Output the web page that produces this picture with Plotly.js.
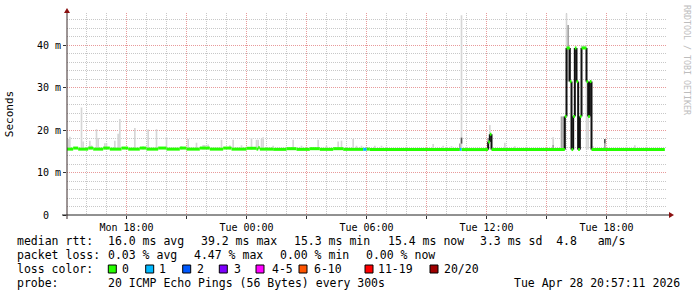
<!DOCTYPE html>
<html><head><meta charset="utf-8">
<script src="https://cdn.plot.ly/plotly-3.0.1.min.js"></script>
<style>html,body{margin:0;padding:0;background:#fff}#chart{width:697px;height:297px}</style>
</head><body><div id="chart"></div>
<script>
// ---------- DATA ----------
const DAYS = {Mon: '2026-04-27', Tue: '2026-04-28'};

// median RTT (ms): start time of each step, value, lost pings
const medTimes = ['Mon 15:00','Mon 15:20','Mon 15:35','Mon 16:05','Mon 16:20','Mon 16:50','Mon 17:10','Mon 17:45','Mon 18:05','Mon 18:40','Mon 19:00','Mon 19:35','Mon 20:00','Mon 20:40','Mon 21:00','Mon 21:40','Mon 22:10','Mon 22:50','Mon 23:15','Tue 00:00','Tue 00:30','Tue 00:35','Tue 00:40','Tue 01:20','Tue 02:00','Tue 02:30','Tue 03:10','Tue 03:40','Tue 04:20','Tue 04:50','Tue 05:50','Tue 06:00','Tue 06:10','Tue 10:40','Tue 10:45','Tue 12:05','Tue 12:10','Tue 12:15','Tue 15:55','Tue 16:00','Tue 16:10','Tue 16:15','Tue 16:20','Tue 16:25','Tue 16:30','Tue 16:35','Tue 16:40','Tue 16:45','Tue 17:00','Tue 17:05','Tue 17:10','Tue 17:15','Tue 20:55'];
const medValues = [15.5,15.75,15.5,15.75,15.5,15.75,15.5,15.75,15.5,15.75,15.5,15.75,15.5,15.75,15.5,15.75,15.5,15.75,15.5,15.7,15.5,15.8,15.5,15.45,15.6,15.45,15.6,15.45,15.6,15.45,15.45,15.5,15.4,15.45,15.4,17.2,19.0,15.4,23.2,39.3,31.4,15.4,23.2,39.3,31.4,15.4,23.2,39.3,31.4,23.2,31.4,15.4,15.4];
const medLoss = [0,0,0,0,0,0,0,0,0,0,0,0,0,0,0,0,0,0,0,0,0,0,0,0,0,0,0,0,0,0,1,0,0,1,0,0,0,0,0,0,0,0,0,0,0,0,0,0,0,0,0,0,0];

// light smoke (ms): step time, low, high
const smokeTimes = ['Mon 15:05','Mon 15:10','Mon 15:45','Mon 15:50','Mon 16:10','Mon 16:15','Mon 16:30','Mon 16:35','Mon 16:55','Mon 17:00','Mon 17:25','Mon 17:35','Mon 17:40','Mon 18:25','Mon 18:50','Mon 19:05','Mon 19:30','Mon 20:00','Mon 20:45','Mon 21:05','Mon 21:30','Mon 21:50','Mon 21:55','Mon 22:05','Mon 22:45','Mon 23:10','Mon 23:20','Mon 23:45','Tue 00:15','Tue 00:30','Tue 00:35','Tue 00:45','Tue 00:50','Tue 01:20','Tue 02:20','Tue 02:45','Tue 03:35','Tue 04:00','Tue 04:35','Tue 04:45','Tue 05:20','Tue 05:30','Tue 05:45','Tue 06:25','Tue 06:45','Tue 09:20','Tue 09:50','Tue 10:15','Tue 10:45','Tue 12:10','Tue 12:55','Tue 13:25','Tue 15:20','Tue 16:00','Tue 16:45','Tue 16:50','Tue 16:55','Tue 17:00','Tue 17:05','Tue 17:20','Tue 19:00','Tue 19:25'];
const smokeLow = [15.4,15.4,15.4,15.4,15.4,15.4,15.4,15.4,15.4,15.4,15.4,15.4,15.4,15.4,15.4,15.4,15.4,15.4,15.4,15.4,15.4,15.4,15.4,15.4,15.4,15.4,15.4,15.4,15.4,15.4,15.4,15.4,15.4,15.4,15.4,15.4,15.4,15.4,15.4,15.4,15.4,15.4,15.4,15.4,15.4,15.4,15.4,15.4,15.4,19.0,15.4,15.4,15.4,39.3,39.3,39.3,39.3,15.4,15.4,15.4,15.4,15.4];
const smokeHigh = [17.9,18.4,25.3,17.3,17.5,16.4,20.2,18.1,16.9,16.9,17.5,19.1,22.6,20.5,16.2,20.1,20.2,18.3,16.2,17.9,17.0,16.5,16.5,16.6,17.7,16.4,17.7,16.4,18.1,17.7,17.7,17.9,18.3,16.3,17.7,16.3,17.7,16.3,17.3,17.5,17.9,16.3,16.3,16.3,16.3,16.7,16.3,16.2,47.0,21.2,17.0,16.2,18.3,47.4,39.9,39.9,39.9,31.4,31.4,16.2,16.0,16.4];

// medium smoke
const midTimes = ['Tue 10:40','Tue 12:05','Tue 15:20','Tue 15:45','Tue 15:50','Tue 16:05','Tue 16:35','Tue 16:40','Tue 17:55'];
const midLow = [15.4,15.4,15.4,15.4,15.4,31.4,15.4,15.4,15.4];
const midHigh = [16.8,18.1,16.5,23.2,23.2,44.7,23.2,23.2,16.8];

// dark smoke
const darkTimes = ['Tue 10:45','Tue 17:55'];
const darkLow = [16.8,16.8];
const darkHigh = [18.2,17.9];

const lossLabels = ['0','1','2','3','4-5','6-10','11-19','20/20'];
const lossColors = ['#26ff00','#00b8ff','#0059ff','#7e00ff','#ff00ff','#ff5500','#ff0000','#a00000'];

const xTickVals = ['Mon 18:00','Mon 21:00','Tue 00:00','Tue 03:00','Tue 06:00','Tue 09:00','Tue 12:00','Tue 15:00','Tue 18:00'];
const xTickText = ['Mon 18:00','','Tue 00:00','','Tue 06:00','','Tue 12:00','','Tue 18:00'];
const yTickVals = [0,10,20,30,40];
const yTickText = ['0  ','10 m','20 m','30 m','40 m'];

const statLine1 = ['median rtt:','16.0 ms avg','39.2 ms max','15.3 ms min','15.4 ms now','3.3 ms sd  4.8   am/s'];
const statLine2 = ['packet loss:','0.03 % avg','4.47 % max','0.00 % min','0.00 % now'];
const statLine3 = ['loss color:'];
const statLine4 = ['probe:','20 ICMP Echo Pings (56 Bytes) every 300s','Tue Apr 28 20:57:11 2026'];

// ---------- LAYOUT CONSTANTS ----------
const L = 67, R = 667, TOP = 13, BOT = 215;
const px = x => (x - L) / (R - L);
const py = y => (BOT - y) / (BOT - TOP);
const T = s => { const [d, h] = s.split(' '); return DAYS[d] + ' ' + h; };
const nb = s => s.replace(/ /g, '\u00a0');
const MONO = 'DejaVu Sans Mono';
const STEP = 5 * 60 * 1000;

const traces = [];
function smoke(times, lo, hi, color) {
  traces.push({type: 'bar', x: times.map(T), base: lo, y: hi.map((h, i) => h - lo[i]),
    width: times.map(() => STEP), marker: {color: color, line: {width: 0}}, hoverinfo: 'skip', showlegend: false});
}
smoke(smokeTimes, smokeLow, smokeHigh, '#d6d6d6');
smoke(midTimes, midLow, midHigh, '#a4a4a4');
smoke(darkTimes, darkLow, darkHigh, '#555555');

// black vertical connectors where the median jumps
{
  const xs = [], ys = [];
  for (let i = 1; i < medTimes.length; i++) {
    if (Math.abs(medValues[i] - medValues[i - 1]) < 1) continue;
    xs.push(T(medTimes[i]), T(medTimes[i]), null);
    ys.push(medValues[i - 1], medValues[i], null);
  }
  traces.push({type: 'scatter', mode: 'lines', x: xs, y: ys, connectgaps: false,
    line: {color: '#111', width: 2}, hoverinfo: 'skip', showlegend: false});
}

// coloured median segments
lossColors.forEach((c, k) => {
  const xs = [], ys = [];
  for (let i = 0; i < medTimes.length - 1; i++) {
    if (medLoss[i] !== k) continue;
    xs.push(T(medTimes[i]), T(medTimes[i + 1]), null);
    ys.push(medValues[i], medValues[i], null);
  }
  if (xs.length) traces.push({type: 'scatter', mode: 'lines', x: xs, y: ys,
    line: {color: c, width: 3}, connectgaps: false, hoverinfo: 'skip', showlegend: false});
});

// ---------- ANNOTATIONS ----------
const ann = [];
function txt(s, x, y, opts) {
  ann.push(Object.assign({text: nb(s), x: px(x), y: py(y), xref: 'paper', yref: 'paper',
    xanchor: 'left', yanchor: 'middle', showarrow: false, borderpad: 0,
    font: {family: MONO, size: 11.5, color: '#000'}}, opts || {}));
}
const line1X = [16, 107.3, 200, 292.7, 386.7, 479.3];
const line2X = [16, 107.3, 193.3, 279.3, 365];
const line4X = [16, 107.3, 513.3];
statLine1.forEach((s, i) => txt(s, line1X[i], 241));
statLine2.forEach((s, i) => txt(s, line2X[i], 255));
statLine3.forEach((s, i) => txt(s, 16, 269));
statLine4.forEach((s, i) => txt(s, line4X[i], 283));
const sqX = [108.3, 145.7, 182.7, 219.3, 256, 299, 365, 430];
const lblX = [120.7, 158, 196, 233.3, 270.7, 313.3, 377.3, 443.3];
lossLabels.forEach((s, i) => txt(s, lblX[i], 269));
ann.push({text: nb('RRDTOOL / TOBI OETIKER'), x: px(687), y: py(60), xref: 'paper', yref: 'paper',
  xanchor: 'center', yanchor: 'middle', textangle: 90, showarrow: false, borderpad: 0,
  font: {family: MONO, size: 8.3, color: '#bdbdbd'}});

// ---------- SHAPES ----------
const shapes = [];
lossColors.forEach((c, i) => shapes.push({type: 'rect', xref: 'paper', yref: 'paper',
  x0: px(sqX[i]), x1: px(sqX[i] + 8), y0: py(273), y1: py(265), fillcolor: c, line: {color: '#000', width: 1}}));
shapes.push({type: 'line', xref: 'paper', yref: 'paper', x0: px(62), x1: px(671), y0: 0, y1: 0, line: {color: '#222', width: 1}});
shapes.push({type: 'line', xref: 'paper', yref: 'paper', x0: 0, x1: 0, y0: py(219), y1: py(11), line: {color: '#3a2a2a', width: 1}});
shapes.push({type: 'path', xref: 'paper', yref: 'paper', fillcolor: '#8b1010', line: {width: 0},
  path: `M ${px(67)} ${py(8)} L ${px(64)} ${py(13)} L ${px(70)} ${py(13)} Z`});
shapes.push({type: 'path', xref: 'paper', yref: 'paper', fillcolor: '#8b1010', line: {width: 0},
  path: `M ${px(674)} ${py(215)} L ${px(669)} ${py(212)} L ${px(669)} ${py(218)} Z`});

const layout = {
  width: 697, height: 297, margin: {l: L, r: 697 - R, t: TOP, b: 297 - BOT},
  paper_bgcolor: '#fff', plot_bgcolor: '#fff', barmode: 'overlay', showlegend: false,
  xaxis: {type: 'date', range: [T('Mon 15:01:30'), T('Tue 21:01:30')], tickmode: 'array',
    tickvals: xTickVals.map(T), ticktext: xTickText, showgrid: true, gridcolor: '#e89a9a', griddash: '1px,1px',
    gridwidth: 1, zeroline: false, showline: false, ticks: 'outside', ticklen: 3, tickcolor: '#333',
    tickfont: {family: MONO, size: 10, color: '#000'},
    minor: {dtick: 3600000, showgrid: true, gridcolor: '#c8c8c8', griddash: '1px,1px', gridwidth: 1}},
  yaxis: {range: [0, 47.53], tickmode: 'array', tickvals: yTickVals, ticktext: yTickText.map(nb),
    showgrid: true, gridcolor: '#e89a9a', griddash: '1px,1px', zeroline: false, showline: false,
    ticks: 'outside', ticklen: 3, tickcolor: '#333', tickfont: {family: MONO, size: 10, color: '#000'},
    minor: {dtick: 2, showgrid: true, gridcolor: '#c8c8c8', griddash: '1px,1px', gridwidth: 1},
    title: {text: 'Seconds', font: {family: MONO, size: 11, color: '#000'}, standoff: 21}},
  annotations: ann, shapes: shapes
};
Plotly.newPlot('chart', traces, layout, {staticPlot: true, displayModeBar: false});
</script></body></html>
